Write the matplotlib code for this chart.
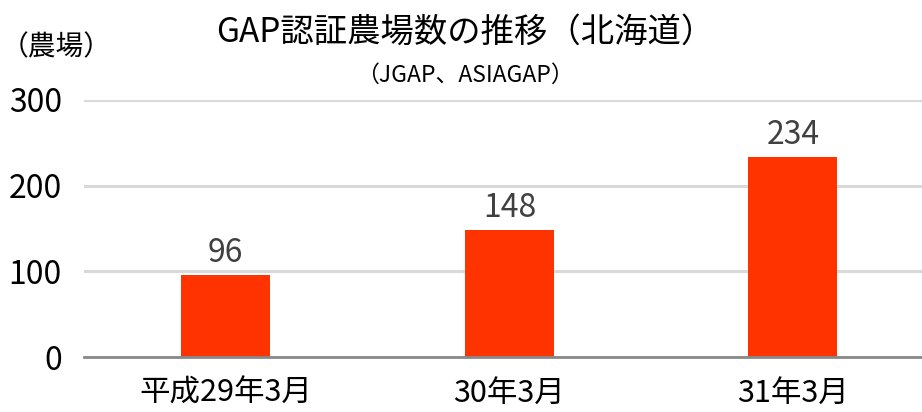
import matplotlib

matplotlib.use("Agg")
import matplotlib.pyplot as plt  # noqa: E402

categories = ["平成29年3月", "30年3月", "31年3月"]
farms = [96, 148, 234]
yticks = [0, 100, 200, 300]

plt.rcParams["font.family"] = ["Noto Sans CJK JP", "DejaVu Sans"]

fig = plt.figure(figsize=(9.22, 4.12), dpi=100)
ax = fig.add_axes([84 / 922, 55 / 412, 838 / 922, 257 / 412])

x = range(len(categories))
ax.bar(list(x), farms, width=0.314, color="#FF3300", zorder=3)

for i, v in enumerate(farms):
    ax.text(i, v + 7, str(v), ha="center", va="bottom", fontsize=23, color="#404040")

ax.set_xlim(-0.5, 2.455)
ax.set_ylim(0, 300)
ax.set_yticks(yticks)
ax.set_yticklabels([str(t) for t in yticks], fontsize=23)
ax.set_xticks(list(x))
ax.set_xticklabels(categories, fontsize=22)
ax.tick_params(axis="x", length=0, pad=15)
ax.tick_params(axis="y", length=0, pad=16)
ax.grid(axis="y", color="#D9D9D9", linewidth=2.2, zorder=0)
ax.spines[["top", "right", "left"]].set_visible(False)
ax.spines["bottom"].set_color("#898989")
ax.spines["bottom"].set_linewidth(2)
ax.spines["bottom"].set_zorder(4)

fig.text(465 / 922, 1 - 32 / 412, "GAP認証農場数の推移（北海道）", ha="center", va="center", fontsize=24)
fig.text(465 / 922, 1 - 75 / 412, "（JGAP、ASIAGAP）", ha="center", va="center", fontsize=16.5)
fig.text(56 / 922, 1 - 47 / 412, "（農場）", ha="center", va="center", fontsize=20)

fig.savefig("out.png")
